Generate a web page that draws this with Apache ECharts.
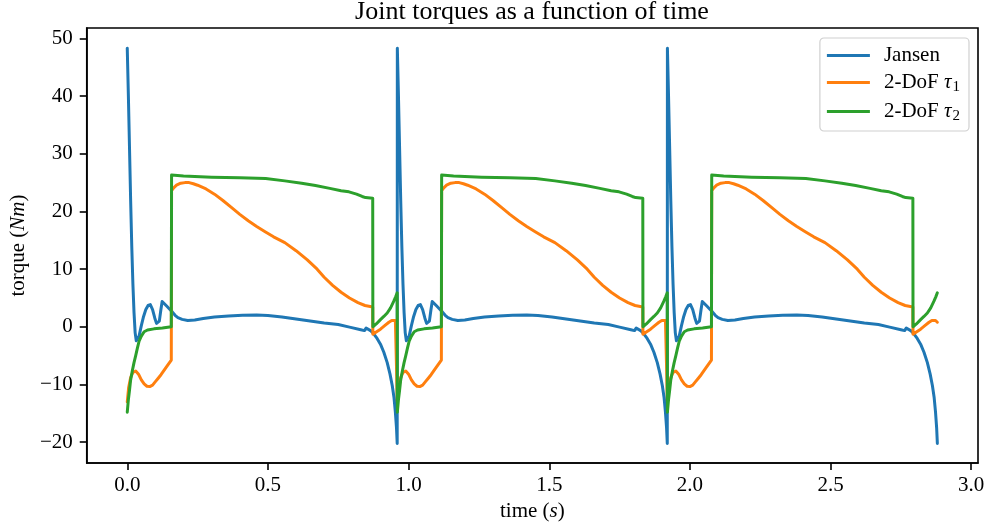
<!DOCTYPE html>
<html>
<head>
<meta charset="utf-8">
<script src="https://cdn.jsdelivr.net/npm/echarts@6/dist/echarts.min.js"></script>
<style>html,body{margin:0;padding:0;background:#fff;}#c{width:992px;height:529px;}</style>
</head>
<body>
<div id="c"></div>
<script>
// One gait cycle (period 0.96 s); the plot shows three identical cycles.
const period = 0.96;
const cycles = 3;
const jansenT = [0.000,0.004,0.008,0.012,0.016,0.020,0.024,0.028,0.032,0.036,0.042,0.050,0.058,0.066,0.074,0.082,0.090,0.098,0.104,0.109,0.114,0.119,0.124,0.130,0.140,0.150,0.160,0.170,0.180,0.195,0.215,0.240,0.270,0.310,0.360,0.410,0.460,0.500,0.550,0.600,0.650,0.700,0.750,0.790,0.830,0.843,0.849,0.856,0.866,0.876,0.888,0.900,0.912,0.924,0.934,0.942,0.948,0.953,0.957,0.9595];
const jansenV = [48.3,40,31,22,14,7.5,2.5,-1.0,-2.4,-2.5,-1.6,0.2,1.8,3.0,3.7,3.85,3.0,1.5,0.6,0.4,1.0,2.8,4.4,4.1,3.6,3.1,2.6,2.0,1.6,1.3,1.1,1.2,1.45,1.7,1.9,2.02,2.05,1.95,1.7,1.35,1.0,0.65,0.4,-0.05,-0.5,-0.65,-0.2,-0.35,-0.7,-1.2,-2.0,-3.0,-4.4,-6.2,-8.2,-10.2,-12.2,-14.8,-17.5,-20.2];
const tau1T = [0.000,0.005,0.012,0.020,0.030,0.040,0.050,0.060,0.070,0.080,0.090,0.100,0.110,0.120,0.130,0.140,0.1565,0.1575,0.165,0.175,0.190,0.205,0.220,0.235,0.250,0.280,0.310,0.340,0.370,0.400,0.430,0.460,0.490,0.520,0.560,0.600,0.640,0.675,0.700,0.730,0.760,0.790,0.820,0.845,0.8725,0.873,0.885,0.900,0.915,0.930,0.940,0.947,0.953,0.9595];
const tau1V = [-13.0,-10.5,-8.8,-7.9,-7.65,-8.2,-9.2,-9.9,-10.3,-10.35,-10.1,-9.5,-8.9,-8.3,-7.6,-6.9,-5.75,23.6,24.1,24.55,24.9,25.0,25.0,24.8,24.55,23.9,23.0,21.9,20.7,19.5,18.4,17.4,16.5,15.6,14.6,13.2,11.6,10.0,8.6,7.2,6.0,5.0,4.2,3.7,3.45,-1.3,-0.9,-0.4,0.2,0.8,1.1,1.2,1.1,0.8];
const tau2T = [0.000,0.004,0.008,0.012,0.018,0.024,0.030,0.036,0.042,0.050,0.060,0.072,0.095,0.125,0.1565,0.1575,0.200,0.300,0.400,0.492,0.560,0.620,0.669,0.720,0.760,0.788,0.815,0.835,0.847,0.8725,0.873,0.885,0.900,0.912,0.924,0.936,0.947,0.954,0.9595];
const tau2V = [-14.8,-12.6,-11.0,-9.2,-7.6,-6.2,-5.0,-3.7,-2.5,-1.6,-0.85,-0.55,-0.35,-0.2,0.0,26.3,26.15,25.95,25.85,25.7,25.3,24.9,24.5,24.0,23.6,23.4,23.0,22.6,22.4,22.3,0.0,0.5,1.25,1.8,2.4,3.3,4.4,5.2,5.9];
const xTicks = [0.0,0.5,1.0,1.5,2.0,2.5,3.0];
const yTicks = [-20,-10,0,10,20,30,40,50];
const seriesNames = ['Jansen','2-DoF τ1','2-DoF τ2'];
const colors = ['#1f77b4','#ff7f0e','#2ca02c'];

function build(ts, vs){
  const out = [];
  for (let k = 0; k < cycles; k++) {
    for (let i = 0; i < ts.length; i++) out.push([+(ts[i] + k*period).toFixed(4), vs[i]]);
  }
  return out;
}
const FONT = 'Liberation Serif';
const chart = echarts.init(document.getElementById('c'), null, {renderer:'canvas'});
const mkSeries = (name, data, color) => ({
  name, type:'line', data, symbol:'none', showSymbol:false, smooth:false,
  lineStyle:{width:3, color, join:'round', cap:'round'}, itemStyle:{color}, animation:false, clip:true
});
chart.setOption({
  animation:false,
  backgroundColor:'#fff',
  title:{text:'Joint torques as a function of time', left:532, textAlign:'center', top:-1, padding:0,
    textStyle:{fontFamily:FONT, fontSize:26, fontWeight:'normal', color:'#000'}},
  grid:{left:86, right:14, top:28, bottom:66, show:true, borderColor:'#000', borderWidth:1.6, backgroundColor:'transparent'},
  legend:{
    orient:'vertical', right:23, top:38, itemWidth:43, itemHeight:3, itemGap:6, icon:'rect',
    padding:[7,9,7,7], borderColor:'#d0d0d0', borderWidth:1.2, borderRadius:4,
    backgroundColor:'rgba(255,255,255,0.8)',
    data:seriesNames,
    formatter:function(n){
      if (n==='Jansen') return '{n|Jansen}';
      const d = n.slice(-1);
      return '{n|2-DoF }{t|τ}{s|'+d+'}';
    },
    textStyle:{fontFamily:FONT, fontSize:21, color:'#000', padding:[0,0,0,9],
      rich:{
        n:{fontFamily:FONT, fontSize:21, color:'#000', lineHeight:24},
        t:{fontFamily:FONT, fontSize:21, fontStyle:'italic', color:'#000', lineHeight:24},
        s:{fontFamily:FONT, fontSize:15, color:'#000', padding:[10,0,0,1]}
      }}
  },
  xAxis:{
    type:'value', min:-0.144, max:3.024,
    name:'{n|time (}{i|s}{n|)}', nameLocation:'middle', nameGap:36,
    nameTextStyle:{fontFamily:FONT, fontSize:21, color:'#000',
      rich:{n:{fontFamily:FONT, fontSize:21, color:'#000'}, i:{fontFamily:FONT, fontSize:21, fontStyle:'italic', color:'#000'}}},
    splitLine:{show:false},
    axisLine:{show:true, onZero:false, lineStyle:{color:'#000', width:1.6}},
    axisTick:{show:true, inside:false, length:7, lineStyle:{color:'#000', width:1.6}, customValues:xTicks},
    axisLabel:{show:true, margin:12, fontFamily:FONT, fontSize:21, color:'#000', customValues:xTicks,
      formatter:v=>v.toFixed(1)}
  },
  yAxis:{
    type:'value', min:-23.6, max:51.8,
    name:'{n|torque (}{i|Nm}{n|)}', nameLocation:'middle', nameGap:50, nameRotate:90,
    nameTextStyle:{fontFamily:FONT, fontSize:21, color:'#000',
      rich:{n:{fontFamily:FONT, fontSize:21, color:'#000'}, i:{fontFamily:FONT, fontSize:21, fontStyle:'italic', color:'#000'}}},
    splitLine:{show:false},
    axisLine:{show:true, onZero:false, lineStyle:{color:'#000', width:1.6}},
    axisTick:{show:true, inside:false, length:7, lineStyle:{color:'#000', width:1.6}, customValues:yTicks},
    axisLabel:{show:true, margin:14, fontFamily:FONT, fontSize:21, color:'#000', customValues:yTicks,
      formatter:v=>(v<0?'\u2212'+Math.abs(v):String(v))}
  },
  series:[
    mkSeries(seriesNames[0], build(jansenT, jansenV), colors[0]),
    mkSeries(seriesNames[1], build(tau1T, tau1V), colors[1]),
    mkSeries(seriesNames[2], build(tau2T, tau2V), colors[2])
  ]
});
</script>
</body>
</html>
